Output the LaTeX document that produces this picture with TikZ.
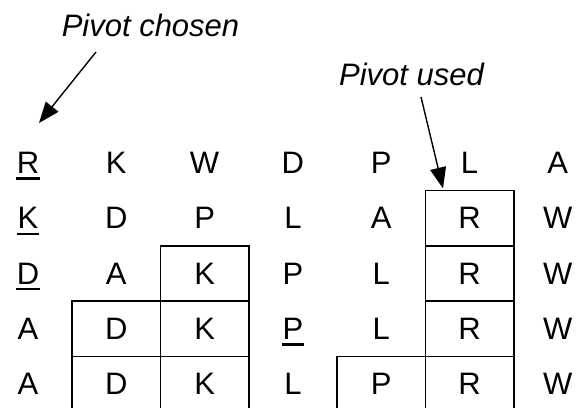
\documentclass[tikz,border=0pt]{standalone}
\usepackage{fontspec}
\setmainfont{Liberation Sans}
\usetikzlibrary{arrows.meta}
\begin{document}
\begin{tikzpicture}[x=1bp,y=-1bp,
  cell/.style={minimum width=88.3bp,minimum height=55.25bp,inner sep=0pt,
    font=\fontsize{31bp}{37bp}\selectfont},
  b0/.style={},
  b1/.style={draw,line width=1.7bp},
  lbl/.style={inner sep=0pt,font=\fontsize{31bp}{37bp}\selectfont\itshape},
  arr/.style={line width=1.4bp,-{Triangle[length=21bp,width=16bp]}},
  uline/.style={line width=2.5bp}]
\useasboundingbox (0,0) rectangle (584,407);
\clip (0,0) rectangle (584,407);
\foreach \rowlist [count=\r from 0] in {
  {R/0,K/0,W/0,D/0,P/0,L/0,A/0},
  {K/0,D/0,P/0,L/0,A/0,R/1,W/0},
  {D/0,A/0,K/1,P/0,L/0,R/1,W/0},
  {A/0,D/1,K/1,P/0,L/0,R/1,W/0},
  {A/0,D/1,K/1,L/0,P/1,R/1,W/0}}
  \foreach \ch/\b [count=\c from 0] in \rowlist
    \node[cell,b\b] (n\r\c) at ({28+88.3*\c},{163+55.25*\r}) {\ch};
% underlines of the chosen pivots
\draw[uline] ([xshift=-12bp,yshift=-15.5bp]n00.center) -- ++(24bp,0);
\draw[uline] ([xshift=-11bp,yshift=-15.5bp]n10.center) -- ++(22bp,0);
\draw[uline] ([xshift=-12bp,yshift=-15.5bp]n20.center) -- ++(24bp,0);
\draw[uline] ([xshift=-11bp,yshift=-15.5bp]n33.center) -- ++(22bp,0);
% labels and arrows
\node[lbl,anchor=base] (chosen) at (150.5,36) {Pivot chosen};
\node[lbl,anchor=base] (used) at (411.5,85) {Pivot used};
\coordinate (c1) at (96,52);
\coordinate (c2) at (39,123);
\coordinate (u1) at (421,97);
\coordinate (u2) at (443,188.5);
\draw[arr] (c1) -- (c2);
\draw[arr] (u1) -- (u2);
\end{tikzpicture}
\end{document}
